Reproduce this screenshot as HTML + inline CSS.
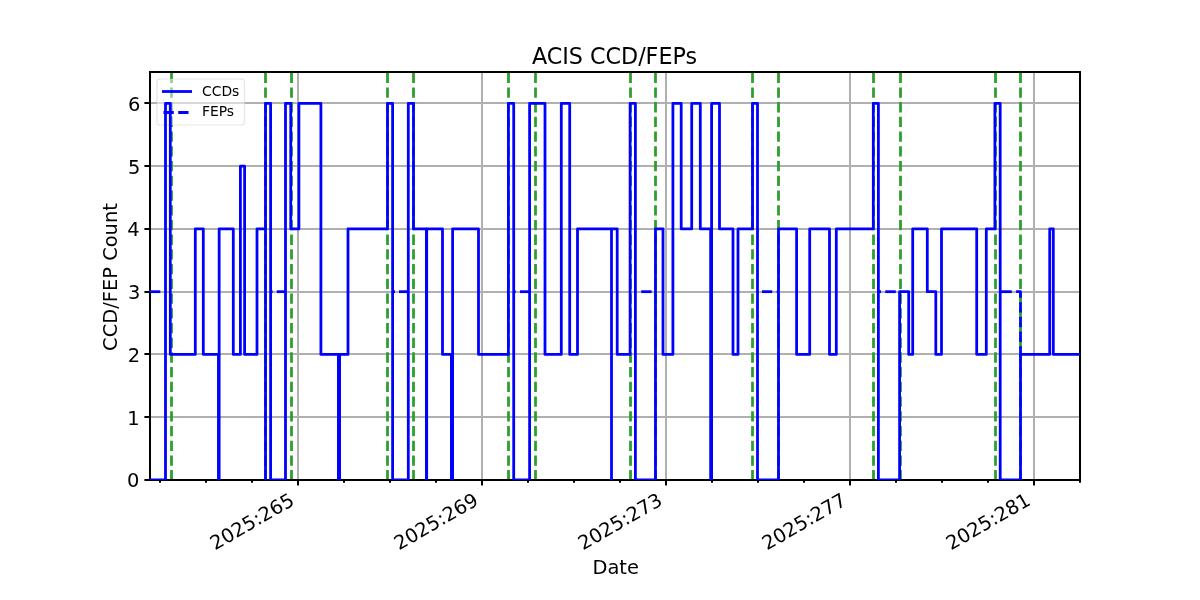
<!DOCTYPE html>
<html lang="en"><head><meta charset="utf-8"><title>ACIS CCD/FEPs</title>
<style>html,body{margin:0;padding:0;background:#fff}body{width:1200px;height:600px;overflow:hidden}svg{display:block;will-change:transform}text{font-family:"DejaVu Sans","Liberation Sans",sans-serif;fill:#000}</style></head><body>
<svg width="1200" height="600" viewBox="0 0 1200 600">
<rect width="1200" height="600" fill="#fff"/>
<defs><clipPath id="ax"><rect x="150" y="72" width="930" height="408"/></clipPath></defs>
<g stroke="#b0b0b0" stroke-width="2" clip-path="url(#ax)">
<line x1="298" y1="72" x2="298" y2="480"/>
<line x1="482" y1="72" x2="482" y2="480"/>
<line x1="666" y1="72" x2="666" y2="480"/>
<line x1="850" y1="72" x2="850" y2="480"/>
<line x1="1034" y1="72" x2="1034" y2="480"/>
<line x1="150" y1="417" x2="1080" y2="417"/>
<line x1="150" y1="354" x2="1080" y2="354"/>
<line x1="150" y1="292" x2="1080" y2="292"/>
<line x1="150" y1="229" x2="1080" y2="229"/>
<line x1="150" y1="166" x2="1080" y2="166"/>
<line x1="150" y1="103" x2="1080" y2="103"/>
</g>
<g stroke="#000" stroke-width="2">
<line x1="298" y1="480" x2="298" y2="485.6"/>
<line x1="482" y1="480" x2="482" y2="485.6"/>
<line x1="666" y1="480" x2="666" y2="485.6"/>
<line x1="850" y1="480" x2="850" y2="485.6"/>
<line x1="1034" y1="480" x2="1034" y2="485.6"/>
<line x1="160" y1="480" x2="160" y2="482.8"/>
<line x1="206" y1="480" x2="206" y2="482.8"/>
<line x1="252" y1="480" x2="252" y2="482.8"/>
<line x1="344" y1="480" x2="344" y2="482.8"/>
<line x1="390" y1="480" x2="390" y2="482.8"/>
<line x1="436" y1="480" x2="436" y2="482.8"/>
<line x1="528" y1="480" x2="528" y2="482.8"/>
<line x1="574" y1="480" x2="574" y2="482.8"/>
<line x1="620" y1="480" x2="620" y2="482.8"/>
<line x1="712" y1="480" x2="712" y2="482.8"/>
<line x1="758" y1="480" x2="758" y2="482.8"/>
<line x1="804" y1="480" x2="804" y2="482.8"/>
<line x1="896" y1="480" x2="896" y2="482.8"/>
<line x1="942" y1="480" x2="942" y2="482.8"/>
<line x1="988" y1="480" x2="988" y2="482.8"/>
<line x1="1080" y1="480" x2="1080" y2="482.8"/>
<line x1="144.4" y1="480" x2="150" y2="480"/>
<line x1="144.4" y1="417" x2="150" y2="417"/>
<line x1="144.4" y1="354" x2="150" y2="354"/>
<line x1="144.4" y1="292" x2="150" y2="292"/>
<line x1="144.4" y1="229" x2="150" y2="229"/>
<line x1="144.4" y1="166" x2="150" y2="166"/>
<line x1="144.4" y1="103" x2="150" y2="103"/>
</g>
<g clip-path="url(#ax)" fill="none">
<g stroke="#2ca02c" stroke-width="2.78" stroke-dasharray="10.28 4.44">
<line x1="171.5" y1="480.4" x2="171.5" y2="72"/>
<line x1="265.5" y1="480.4" x2="265.5" y2="72"/>
<line x1="291.5" y1="480.4" x2="291.5" y2="72"/>
<line x1="387.5" y1="480.4" x2="387.5" y2="72"/>
<line x1="413.5" y1="480.4" x2="413.5" y2="72"/>
<line x1="508.5" y1="480.4" x2="508.5" y2="72"/>
<line x1="535.5" y1="480.4" x2="535.5" y2="72"/>
<line x1="630.5" y1="480.4" x2="630.5" y2="72"/>
<line x1="655.5" y1="480.4" x2="655.5" y2="72"/>
<line x1="752.5" y1="480.4" x2="752.5" y2="72"/>
<line x1="778.5" y1="480.4" x2="778.5" y2="72"/>
<line x1="873.5" y1="480.4" x2="873.5" y2="72"/>
<line x1="900.5" y1="480.4" x2="900.5" y2="72"/>
<line x1="995.5" y1="480.4" x2="995.5" y2="72"/>
<line x1="1020.5" y1="480.4" x2="1020.5" y2="72"/>
</g>
</g>
<rect x="157" y="79" width="87.5" height="46" rx="2.8" ry="2.8" fill="#fff" fill-opacity="0.5" stroke="#ccc" stroke-opacity="0.5" stroke-width="1.2"/>
<line x1="163.4" y1="91.5" x2="190.6" y2="91.5" stroke="#0000ff" stroke-width="2.78" stroke-linecap="square"/>
<line x1="163.5" y1="112.5" x2="191.3" y2="112.5" stroke="#0000ff" stroke-width="2.78" stroke-dasharray="10.28 4.44"/>
<g font-size="13.89px"><text x="202" y="96.4">CCDs</text><text x="202" y="115.9">FEPs</text></g>
<rect x="150" y="72" width="930" height="408" fill="none" stroke="#000" stroke-width="2"/>
<g clip-path="url(#ax)" fill="none">
<path d="M150,480.0H165.5V103.39H170.3V354.46H195.3V228.92H203.3V354.46H218.45V480.0H219.15V228.92H233.3V354.46H240.4V166.16H244.6V354.46H257.0V228.92H265.5V480.0V103.39H270.6V480.0H285.5V103.39H290.75V228.92H298.9V103.39H320.9V354.46H338.4V480.0H339.6V354.46H348.0V228.92H387.5V103.39H392.6V480.0H408.3V103.39H413.5V228.92H426.4V480.0H426.7V228.92H442.5V354.46H451.4V480.0H452.6V228.92H478.5V354.46H508.4V103.39H513.7V480.0H529.6V103.39H545.0V354.46H561.3V103.39H569.7V354.46H577.5V228.92H611.5V480.0V228.92H617.2V354.46H630.1V103.39H635.4V480.0H655.5V228.92H663.0V354.46H672.9V103.39H681.2V228.92H691.7V103.39H700.3V228.92H710.65V480.0H711.6V103.39H719.5V228.92H733.0V354.46H738.0V228.92H752.5V103.39H757.5V480.0H778.5V228.92H796.6V354.46H809.7V228.92H829.5V354.46H836.3V228.92H873.3V103.39H878.4V480.0H899.6V291.69H908.7V354.46H912.7V228.92H927.3V291.69H935.8V354.46H941.5V228.92H976.7V354.46H986.3V228.92H994.9V103.39H1000.2V480.0H1020.5V354.46H1049.7V228.92H1053.3V354.46H1080" stroke="#0000ff" stroke-width="2.78" stroke-linejoin="round" stroke-linecap="square"/>
<g stroke="#0000ff" stroke-width="2.78">
<line x1="150" y1="291.69" x2="160.3" y2="291.69"/>
<line x1="270.6" y1="291.69" x2="272.6" y2="291.69"/>
<line x1="276.8" y1="291.69" x2="285.5" y2="291.69"/>
<line x1="392.6" y1="291.69" x2="395" y2="291.69"/>
<line x1="399.0" y1="291.69" x2="408.3" y2="291.69"/>
<line x1="513.7" y1="291.69" x2="515.7" y2="291.69"/>
<line x1="520" y1="291.69" x2="529.6" y2="291.69"/>
<line x1="641.2" y1="291.69" x2="651.6" y2="291.69"/>
<line x1="762" y1="291.69" x2="772.3" y2="291.69"/>
<line x1="776.7" y1="291.69" x2="778.5" y2="291.69"/>
<line x1="878.4" y1="291.69" x2="881" y2="291.69"/>
<line x1="885.3" y1="291.69" x2="895.8" y2="291.69"/>
<line x1="1000.2" y1="291.69" x2="1011.8" y2="291.69"/>
<line x1="1020.5" y1="302.2" x2="1020.5" y2="312.5"/>
<line x1="1020.5" y1="316.9" x2="1020.5" y2="327.2"/>
<line x1="1020.5" y1="331.6" x2="1020.5" y2="341.9"/>
<line x1="1020.5" y1="346.3" x2="1020.5" y2="354.46"/>
<path d="M1016.1,291.69H1020.5V297.7" stroke-linejoin="round"/>
</g>
</g>
<g font-size="19.44px">
<text x="139.3" y="487.09" text-anchor="end">0</text>
<text x="139.6" y="425.12" text-anchor="end">1</text>
<text x="140.2" y="361.75" text-anchor="end">2</text>
<text x="140.3" y="298.78" text-anchor="end">3</text>
<text x="139.6" y="236.01" text-anchor="end">4</text>
<text x="140.4" y="174.25" text-anchor="end">5</text>
<text x="140.4" y="111.18" text-anchor="end">6</text>
<text transform="translate(295.6,504.0) rotate(-30)" text-anchor="end">2025:265</text>
<text transform="translate(479.6,504.0) rotate(-30)" text-anchor="end">2025:269</text>
<text transform="translate(663.6,504.0) rotate(-30)" text-anchor="end">2025:273</text>
<text transform="translate(847.6,504.0) rotate(-30)" text-anchor="end">2025:277</text>
<text transform="translate(1031.6,504.0) rotate(-30)" text-anchor="end">2025:281</text>
<text x="615.7" y="574" text-anchor="middle">Date</text>
<text transform="translate(117.2,277) rotate(-90)" text-anchor="middle">CCD/FEP Count</text>
</g>
<text x="614.5" y="63.7" text-anchor="middle" font-size="22.22px">ACIS CCD/FEPs</text>
</svg></body></html>
